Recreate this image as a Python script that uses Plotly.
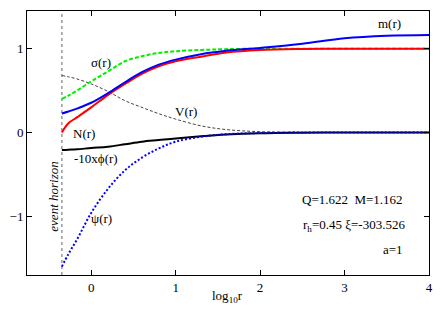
import plotly.graph_objects as go

# log10 r sample positions
logr = [-0.347, -0.27, -0.17, 0.0, 0.2, 0.4, 0.6, 0.8, 1.0, 1.3, 1.6, 2.0, 2.5, 3.0, 3.5, 4.0]

m_r   = [0.226, 0.25, 0.285, 0.355, 0.47, 0.60, 0.72, 0.81, 0.87, 0.935, 0.975, 1.01, 1.06, 1.125, 1.155, 1.164]
N_r   = [0.0, 0.11, 0.18, 0.30, 0.45, 0.58, 0.70, 0.79, 0.85, 0.905, 0.955, 0.985, 0.997, 1.0, 1.0, 1.0]
sig_r = [0.40, 0.44, 0.50, 0.61, 0.73, 0.85, 0.91, 0.95, 0.97, 0.985, 0.995, 1.0, 1.0, 1.0, 1.0, 1.0]
V_r   = [0.68, 0.665, 0.64, 0.58, 0.49, 0.38, 0.30, 0.225, 0.16, 0.08, 0.035, 0.01, 0.003, 0.0, 0.0, 0.0]
phi10 = [-0.21, -0.205, -0.20, -0.185, -0.17, -0.14, -0.11, -0.09, -0.07, -0.045, -0.025, -0.01, -0.003, 0.0, 0.0, 0.0]
psi_r = [-1.60, -1.45, -1.28, -0.96, -0.67, -0.45, -0.30, -0.19, -0.11, -0.05, -0.02, -0.006, 0.0, 0.0, 0.0, 0.0]

r_h_log = -0.347
x_ticks = [0, 1, 2, 3, 4]
y_ticks = [-1, 0, 1]

FONT = "Liberation Serif, Times New Roman, Times, serif"

fig = go.Figure()

fig.add_trace(go.Scatter(x=[r_h_log, r_h_log], y=[-1.7, 1.45], mode="lines",
                         line=dict(color="#888888", width=1.3, dash="dot"), showlegend=False))
fig.add_trace(go.Scatter(x=logr, y=V_r, mode="lines", line_shape="spline",
                         line=dict(color="#444444", width=1, dash="3px,2px"), showlegend=False))
fig.add_trace(go.Scatter(x=logr, y=sig_r, mode="lines", line_shape="spline",
                         line=dict(color="#00ee00", width=2, dash="4px,2px"), showlegend=False))
fig.add_trace(go.Scatter(x=logr, y=N_r, mode="lines", line_shape="spline",
                         line=dict(color="#ff0000", width=2), showlegend=False))
fig.add_trace(go.Scatter(x=logr, y=m_r, mode="lines", line_shape="spline",
                         line=dict(color="#0000ff", width=2), showlegend=False))
fig.add_trace(go.Scatter(x=logr, y=phi10, mode="lines", line_shape="spline",
                         line=dict(color="#000000", width=2), showlegend=False))
fig.add_trace(go.Scatter(x=logr, y=psi_r, mode="lines", line_shape="spline",
                         line=dict(color="#0000ff", width=2, dash="2px,2px"), showlegend=False))

ann = []
def t(x, y, s, **kw):
    d = dict(x=x, y=y, text=s, showarrow=False, font=dict(family=FONT, size=13, color="black"))
    d.update(kw)
    ann.append(d)

t(0.12, 0.83, "σ(r)")
t(3.53, 1.295, "m(r)")
t(1.12, 0.245, "V(r)")
t(-0.09, -0.01, "N(r)")
t(0.06, -0.31, "-10xϕ(r)")
t(0.12, -1.02, "ψ(r)")
t(-0.44, -0.765, "<i>event horizon</i>", textangle=-90)
t(3.71, -0.80, "Q=1.622  M=1.162", xanchor="right")
t(3.74, -1.105, "r<sub>h</sub>=0.45 ξ=-303.526", xanchor="right")
t(3.71, -1.40, "a=1", xanchor="right")
ann.append(dict(x=1.61, y=-0.082, xref="x", yref="paper", yanchor="middle",
                text="log<sub>10</sub>r", showarrow=False,
                font=dict(family=FONT, size=13, color="black")))

axis_common = dict(showline=True, mirror="ticks", ticks="inside", ticklen=5,
                   linecolor="black", linewidth=1, tickcolor="black",
                   showgrid=False, zeroline=False,
                   tickfont=dict(family=FONT, size=13, color="black"))

fig.update_layout(
    width=437, height=304,
    margin=dict(l=15, r=16, t=2, b=37),
    font=dict(family=FONT, size=13, color="black"),
    paper_bgcolor="white", plot_bgcolor="white",
    xaxis=dict(range=[-0.76, 4.0], tickvals=x_ticks, **axis_common),
    yaxis=dict(range=[-1.7, 1.45], tickvals=y_ticks, **axis_common),
    annotations=ann,
    showlegend=False,
)

fig.write_html("out.html")
